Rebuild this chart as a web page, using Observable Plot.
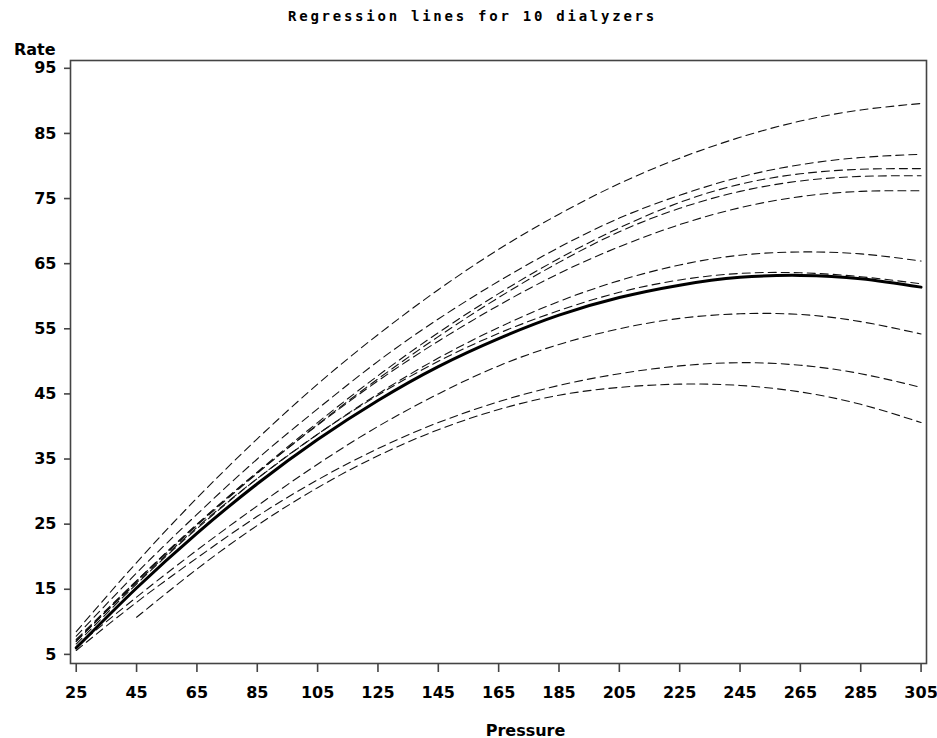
<!DOCTYPE html>
<html>
<head>
<meta charset="utf-8">
<script src="https://cdn.jsdelivr.net/npm/d3@7"></script>
<script src="https://cdn.jsdelivr.net/npm/@observablehq/plot@0.6"></script>
<style>
  html, body { margin: 0; padding: 0; background: #fff; }
  #title {
    height: 40px; box-sizing: border-box; padding-top: 9px; padding-left: 8px;
    font-family: "DejaVu Sans Mono", monospace; font-weight: bold; font-size: 14px;
    line-height: 14px; letter-spacing: 2.75px; text-align: center; color: #000;
  }
  #chart svg { display: block; }
</style>
</head>
<body>
<div id="title">Regression lines for 10 dialyzers</div>
<div id="chart"></div>
<script>
// Pressure values at which each fitted line is read
const pressure = [25, 45, 65, 85, 105, 125, 145, 165, 185, 205, 225, 245, 265, 285, 305];
const xTicks = [25, 45, 65, 85, 105, 125, 145, 165, 185, 205, 225, 245, 265, 285, 305];
const yTicks = [5, 15, 25, 35, 45, 55, 65, 75, 85, 95];

// Fitted rate for each dialyzer (dashed lines)
const dialyzer1  = [8.5, 19.1, 29.0, 38.1, 46.5, 54.1, 61.0, 67.2, 72.6, 77.3, 81.2, 84.4, 86.9, 88.6, 89.6];
const dialyzer2  = [7.8, 17.5, 26.5, 35.0, 42.7, 50.0, 56.5, 62.3, 67.5, 72.0, 75.5, 78.3, 80.2, 81.3, 81.8];
const dialyzer3  = [7.0, 16.3, 25.0, 33.0, 40.6, 47.8, 54.4, 60.4, 65.8, 70.5, 74.4, 77.2, 78.8, 79.5, 79.6];
const dialyzer4  = [7.3, 16.3, 24.8, 32.8, 40.3, 47.3, 53.8, 59.8, 65.2, 69.9, 73.5, 76.1, 77.7, 78.4, 78.5];
const dialyzer5  = [7.0, 16.2, 24.9, 32.9, 40.2, 47.0, 53.1, 58.6, 63.5, 67.6, 71.0, 73.6, 75.3, 76.1, 76.2];
const dialyzer6  = [7.2, 16.0, 24.5, 32.0, 38.8, 45.0, 50.5, 55.2, 59.2, 62.4, 64.8, 66.3, 66.8, 66.5, 65.4];
const dialyzer7  = [6.6, 15.8, 24.3, 32.0, 38.8, 44.8, 50.0, 54.3, 57.8, 60.6, 62.5, 63.5, 63.6, 63.0, 61.9];
const dialyzer8  = [6.2, 13.8, 21.0, 27.8, 34.2, 40.0, 45.0, 49.3, 52.6, 55.0, 56.6, 57.3, 57.2, 56.1, 54.2];
const dialyzer9  = [5.6, 13.0, 19.8, 26.2, 31.8, 36.6, 40.6, 43.8, 46.3, 48.1, 49.3, 49.8, 49.4, 48.1, 46.0];
const dialyzer10 = [null, 10.7, 18.1, 24.8, 30.6, 35.5, 39.5, 42.6, 44.8, 46.0, 46.5, 46.3, 45.3, 43.4, 40.6];

// Overall (mean) regression line (solid)
const overall = [6.0, 15.2, 23.6, 31.2, 38.0, 44.0, 49.2, 53.5, 57.1, 59.8, 61.7, 62.9, 63.2, 62.7, 61.4];

const series = [dialyzer1, dialyzer2, dialyzer3, dialyzer4, dialyzer5,
                dialyzer6, dialyzer7, dialyzer8, dialyzer9, dialyzer10];

const rows = [];
series.forEach((vals, k) => {
  vals.forEach((v, i) => {
    if (v != null) rows.push({dialyzer: "D" + (k + 1), pressure: pressure[i], rate: v});
  });
});
const meanRows = overall.map((v, i) => ({pressure: pressure[i], rate: v}));

const chart = Plot.plot({
  width: 937,
  height: 698,
  marginTop: 20,
  marginBottom: 75,
  marginLeft: 70,
  marginRight: 11,
  style: {fontFamily: "DejaVu Sans, sans-serif", fontSize: "16px", fontWeight: "bold", color: "#000", background: "#fff"},
  x: {domain: [23.1, 306.8]},
  y: {domain: [3.6, 96.2]},
  marks: [
    Plot.line(rows, {x: "pressure", y: "rate", z: "dialyzer", stroke: "#111", strokeWidth: 1.1,
                     strokeDasharray: "8,5", curve: "natural"}),
    Plot.line(meanRows, {x: "pressure", y: "rate", stroke: "#000", strokeWidth: 3, curve: "natural"}),
    Plot.frame({stroke: "#444", strokeWidth: 1.6}),
    Plot.axisX({ticks: xTicks, tickSize: 9, tickPadding: 14, stroke: "#444", strokeWidth: 1.6, fill: "#000", label: null}),
    Plot.axisY({ticks: yTicks, tickSize: 6, tickPadding: 8, stroke: "#444", strokeWidth: 1.6, fill: "#000", label: null}),
    Plot.text(["Rate"], {frameAnchor: "top-left", text: d => d, textAnchor: "end", lineAnchor: "bottom", dx: -15, dy: -6, fill: "#000"}),
    Plot.text(["Pressure"], {frameAnchor: "bottom", text: d => d, lineAnchor: "bottom", dx: 27, dy: 72, fill: "#000"})
  ]
});
document.getElementById("chart").appendChild(chart);
</script>
</body>
</html>
